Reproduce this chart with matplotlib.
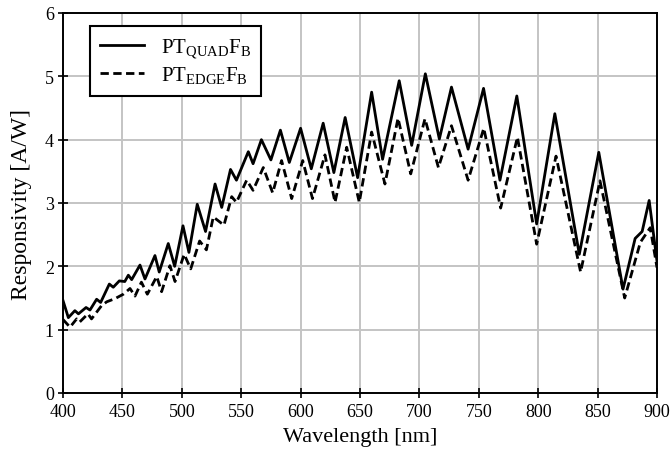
import matplotlib
matplotlib.use("Agg")
import matplotlib.pyplot as plt

# wavelength [nm] / responsivity [A/W]
quad_nm = [400, 404.5, 410, 413, 419.4, 422.7, 428.3, 431.7, 439, 442.3, 447.4,
           452, 455, 457.8, 464.8, 469, 477.4, 481, 488.6, 494, 501, 506, 513,
           520, 528, 533.6, 541, 546, 556, 560, 567, 575, 583, 590.5, 600, 609,
           619, 628, 637.5, 648, 659.8, 669, 683, 693.5, 705, 716.8, 727, 741,
           754, 767.8, 782, 798.7, 814, 834.6, 851, 871.4, 881.6, 887.5, 893.4,
           900]
quad_val = [1.46, 1.19, 1.30, 1.25, 1.35, 1.31, 1.48, 1.43, 1.72, 1.67, 1.77,
            1.76, 1.86, 1.79, 2.02, 1.80, 2.17, 1.91, 2.36, 2.00, 2.64, 2.22, 2.98,
            2.55, 3.30, 2.93, 3.53, 3.36, 3.81, 3.62, 4.00, 3.68, 4.15, 3.64, 4.18, 3.54,
            4.26, 3.48, 4.35, 3.40, 4.75, 3.69, 4.93, 3.91, 5.04, 4.01, 4.83, 3.85,
            4.81, 3.36, 4.69, 2.67, 4.41, 2.19, 3.80, 1.64, 2.44, 2.55, 3.04,
            2.08]

edge_nm = [400, 405.9, 411.5, 414, 421, 424, 432.5, 436.8, 443.8, 450.8, 456.4,
           460.6, 466, 471, 478.9, 483, 490, 494.3, 502, 507.5, 515, 520.7, 526.5,
           535.5, 542, 546, 554.6, 560, 568.6, 576.5, 584, 592.5, 601.8, 610,
           620.5, 629, 638.8, 649.4, 659.8, 671, 682, 692.7, 704.7, 716, 727, 741,
           754.2, 768.4, 782.5, 798.7, 815, 835.7, 852, 872.8, 886, 894.3, 900]
edge_val = [1.16, 1.04, 1.17, 1.12, 1.25, 1.17, 1.38, 1.44, 1.49, 1.56, 1.65,
            1.53, 1.75, 1.56, 1.84, 1.60, 2.01, 1.76, 2.19, 1.96, 2.40, 2.26, 2.78,
            2.65, 3.10, 3.01, 3.36, 3.20, 3.56, 3.16, 3.67, 3.07, 3.67, 3.07,
            3.76, 3.01, 3.88, 3.01, 4.12, 3.30, 4.34, 3.46, 4.33, 3.56, 4.22, 3.36,
            4.18, 2.92, 4.04, 2.35, 3.74, 1.91, 3.35, 1.50, 2.38, 2.61, 1.98]

plt.rcParams["font.family"] = ["Liberation Serif", "DejaVu Serif"]
plt.rcParams["mathtext.fontset"] = "custom"
plt.rcParams["mathtext.rm"] = "Liberation Serif"

fig = plt.figure(figsize=(6.72, 4.52), dpi=100)
ax = fig.add_axes([63 / 672, 1 - 394 / 452, 594 / 672, 380 / 452])

ax.plot(quad_nm, quad_val, color="black", lw=2.0, label=r"PT$_{\mathrm{QUAD}}$F$_{\mathrm{B}}$")
ax.plot(edge_nm, edge_val, color="black", lw=2.0, ls=(0, (3, 1.6)),
        label=r"PT$_{\mathrm{EDGE}}$F$_{\mathrm{B}}$")

ax.set_xlim(400, 900)
ax.set_ylim(0, 6)
ax.set_xticks(range(400, 901, 50))
ax.set_yticks(range(0, 7))
ax.grid(True, color="#c4c4c4", lw=1.4)
ax.set_axisbelow(True)
for sp in ax.spines.values():
    sp.set_linewidth(1.4)
ax.tick_params(direction="inout", length=7, width=1.2, labelsize=13)
ax.tick_params(axis="x", pad=4)
ax.tick_params(axis="y", pad=3)

ax.set_xlabel("Wavelength [nm]", fontsize=16, labelpad=5)
ax.set_ylabel("Responsivity [A/W]", fontsize=17, labelpad=9)

leg = ax.legend(loc="upper left", bbox_to_anchor=(0.045, 0.966), borderaxespad=0,
                fontsize=15, handlelength=2.1, fancybox=False, framealpha=1,
                edgecolor="black", borderpad=0.5, labelspacing=0.15,
                handletextpad=0.8)
leg.get_frame().set_linewidth(1.5)

fig.savefig("out.png", dpi=100)
